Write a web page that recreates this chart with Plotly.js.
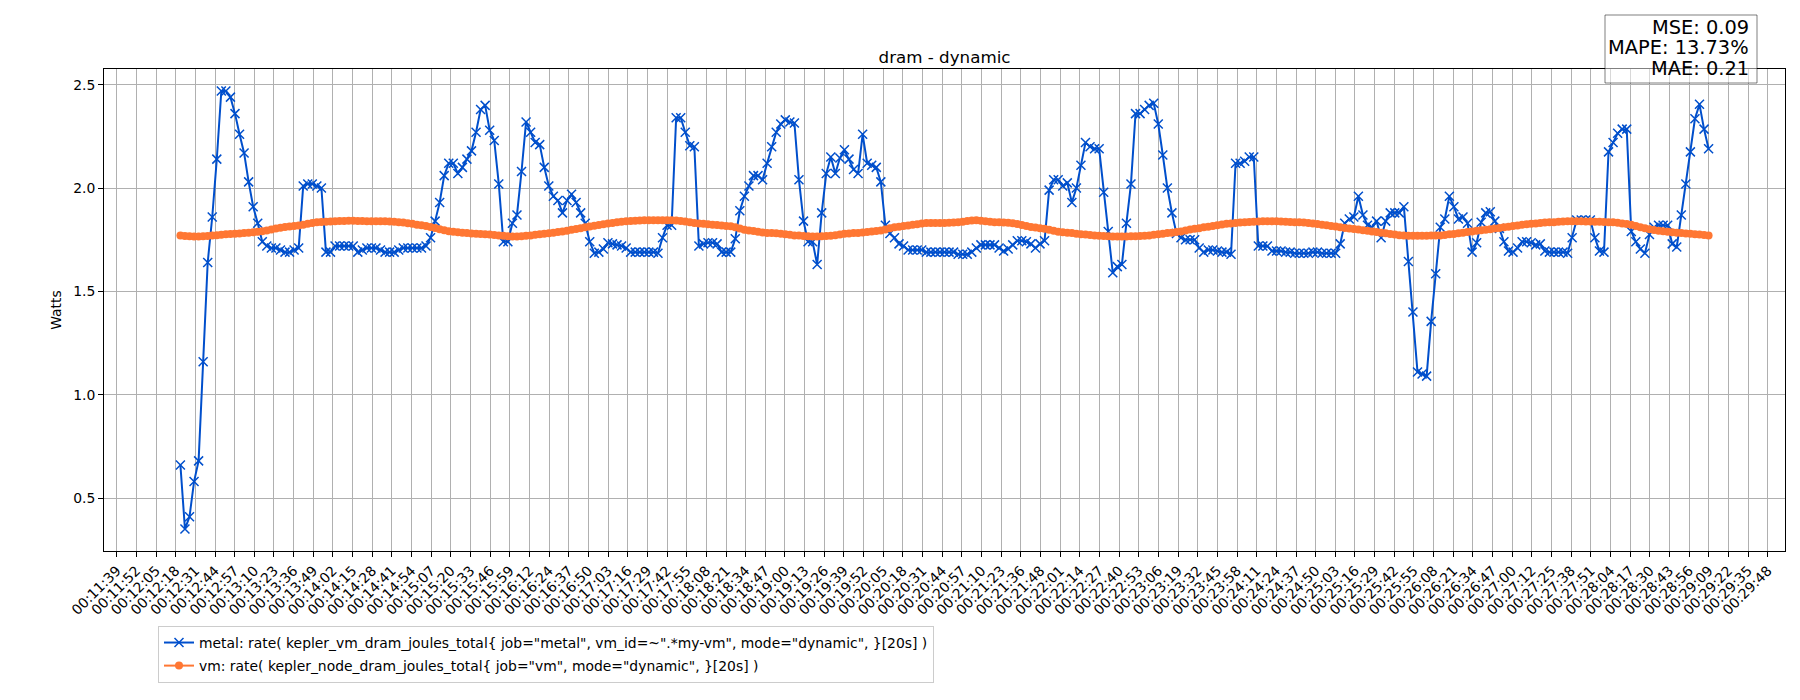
<!DOCTYPE html>
<html>
<head>
<meta charset="utf-8">
<script src="https://cdn.plot.ly/plotly-3.0.1.min.js"></script>
<style>html,body{margin:0;padding:0;background:#fff;}#chart{width:1800px;height:700px;}</style>
</head>
<body>
<div id="chart"></div>
<script>
// ---- data ----
const tickLabels = ["00:11:39","00:11:52","00:12:05","00:12:18","00:12:31","00:12:44","00:12:57","00:13:10","00:13:23","00:13:36","00:13:49","00:14:02","00:14:15","00:14:28","00:14:41","00:14:54","00:15:07","00:15:20","00:15:33","00:15:46","00:15:59","00:16:12","00:16:24","00:16:37","00:16:50","00:17:03","00:17:16","00:17:29","00:17:42","00:17:55","00:18:08","00:18:21","00:18:34","00:18:47","00:19:00","00:19:13","00:19:26","00:19:39","00:19:52","00:20:05","00:20:18","00:20:31","00:20:44","00:20:57","00:21:10","00:21:23","00:21:36","00:21:48","00:22:01","00:22:14","00:22:27","00:22:40","00:22:53","00:23:06","00:23:19","00:23:32","00:23:45","00:23:58","00:24:11","00:24:24","00:24:37","00:24:50","00:25:03","00:25:16","00:25:29","00:25:42","00:25:55","00:26:08","00:26:21","00:26:34","00:26:47","00:27:00","00:27:12","00:27:25","00:27:38","00:27:51","00:28:04","00:28:17","00:28:30","00:28:43","00:28:56","00:29:09","00:29:22","00:29:35","00:29:48"];

const sampleStart = "00:12:21";
const sampleStepSec = 3;

const metalName = 'metal: rate( kepler_vm_dram_joules_total{ job="metal", vm_id=~".*my-vm", mode="dynamic", }[20s] )';
const vmName = 'vm: rate( kepler_node_dram_joules_total{ job="vm", mode="dynamic", }[20s] )';

const metalWatts = [
0.66,0.35,0.41,0.58,0.68,1.16,1.64,1.86,2.14,2.47,
2.47,2.44,2.36,2.26,2.17,2.03,1.91,1.83,1.74,1.72,
1.71,1.71,1.70,1.69,1.69,1.70,1.71,2.01,2.02,2.02,
2.01,2.00,1.69,1.69,1.72,1.72,1.72,1.72,1.72,1.69,
1.70,1.71,1.71,1.71,1.70,1.69,1.69,1.69,1.70,1.71,
1.71,1.71,1.71,1.71,1.72,1.76,1.84,1.93,2.06,2.12,
2.12,2.07,2.10,2.14,2.18,2.27,2.38,2.40,2.28,2.23,
2.02,1.74,1.74,1.83,1.87,2.08,2.32,2.27,2.22,2.21,
2.10,2.01,1.96,1.94,1.88,1.94,1.97,1.93,1.88,1.83,
1.74,1.685,1.69,1.705,1.735,1.73,1.725,1.72,1.71,1.69,
1.69,1.69,1.69,1.69,1.69,1.685,1.76,1.82,1.82,2.34,
2.34,2.27,2.205,2.20,1.72,1.73,1.735,1.735,1.73,1.69,
1.69,1.69,1.755,1.89,1.96,2.01,2.06,2.06,2.04,2.12,
2.20,2.27,2.31,2.33,2.32,2.315,2.04,1.84,1.74,1.74,
1.63,1.88,2.07,2.15,2.07,2.145,2.185,2.14,2.09,2.07,
2.26,2.12,2.11,2.10,2.03,1.82,1.78,1.76,1.73,1.72,
1.70,1.70,1.70,1.70,1.69,1.69,1.69,1.69,1.69,1.69,
1.69,1.68,1.68,1.68,1.69,1.71,1.725,1.725,1.725,1.725,
1.71,1.695,1.705,1.725,1.745,1.745,1.74,1.73,1.71,1.73,
1.745,1.99,2.04,2.04,2.01,2.025,1.93,2.00,2.11,2.22,
2.20,2.19,2.19,1.98,1.79,1.59,1.62,1.63,1.83,2.02,
2.36,2.36,2.38,2.40,2.41,2.31,2.16,2.00,1.88,1.78,
1.76,1.75,1.75,1.75,1.71,1.69,1.70,1.70,1.695,1.69,
1.69,1.68,2.12,2.12,2.13,2.15,2.15,1.72,1.72,1.72,
1.695,1.695,1.695,1.69,1.69,1.685,1.685,1.685,1.685,1.69,
1.69,1.685,1.685,1.685,1.685,1.73,1.83,1.85,1.86,1.96,
1.87,1.82,1.81,1.84,1.76,1.84,1.88,1.88,1.88,1.91,
1.645,1.40,1.11,1.10,1.09,1.355,1.585,1.81,1.85,1.96,
1.91,1.85,1.86,1.83,1.69,1.735,1.835,1.88,1.885,1.84,
1.805,1.74,1.695,1.69,1.71,1.74,1.74,1.735,1.725,1.73,
1.695,1.69,1.69,1.69,1.69,1.685,1.76,1.845,1.845,1.845,
1.845,1.76,1.695,1.69,2.175,2.22,2.265,2.285,2.285,1.79,
1.74,1.705,1.685,1.775,1.81,1.82,1.82,1.82,1.73,1.715,
1.87,2.02,2.175,2.335,2.405,2.285,2.19];

const vmWatts = [
1.770,1.768,1.767,1.766,1.766,1.767,1.768,1.770,1.772,1.774,
1.776,1.778,1.779,1.780,1.782,1.784,1.786,1.788,1.791,1.795,
1.799,1.804,1.808,1.811,1.814,1.816,1.819,1.823,1.827,1.831,
1.834,1.836,1.837,1.838,1.839,1.840,1.841,1.842,1.842,1.841,
1.840,1.839,1.839,1.839,1.839,1.839,1.838,1.837,1.835,1.833,
1.830,1.827,1.823,1.820,1.816,1.812,1.807,1.801,1.796,1.791,
1.788,1.786,1.784,1.782,1.780,1.779,1.778,1.777,1.775,1.773,
1.771,1.769,1.767,1.766,1.766,1.767,1.769,1.771,1.774,1.777,
1.779,1.781,1.784,1.787,1.790,1.794,1.798,1.802,1.806,1.810,
1.814,1.818,1.821,1.825,1.828,1.831,1.834,1.837,1.839,1.841,
1.842,1.843,1.844,1.844,1.844,1.844,1.844,1.844,1.844,1.843,
1.841,1.838,1.835,1.831,1.829,1.827,1.825,1.823,1.821,1.819,
1.817,1.815,1.810,1.804,1.798,1.795,1.792,1.789,1.785,1.783,
1.782,1.781,1.779,1.777,1.774,1.771,1.770,1.768,1.767,1.766,
1.766,1.767,1.768,1.769,1.772,1.775,1.779,1.780,1.782,1.783,
1.785,1.787,1.790,1.792,1.795,1.800,1.805,1.810,1.813,1.816,
1.819,1.822,1.825,1.828,1.831,1.831,1.831,1.831,1.831,1.832,
1.833,1.834,1.837,1.840,1.843,1.844,1.842,1.839,1.837,1.835,
1.834,1.833,1.832,1.830,1.826,1.821,1.816,1.812,1.809,1.806,
1.803,1.798,1.793,1.789,1.786,1.784,1.782,1.779,1.777,1.775,
1.773,1.771,1.769,1.768,1.767,1.766,1.766,1.766,1.766,1.767,
1.767,1.768,1.769,1.771,1.774,1.777,1.779,1.782,1.784,1.787,
1.790,1.795,1.799,1.803,1.806,1.810,1.813,1.817,1.820,1.824,
1.827,1.829,1.831,1.833,1.835,1.836,1.837,1.838,1.839,1.839,
1.839,1.839,1.838,1.837,1.836,1.835,1.834,1.833,1.831,1.829,
1.826,1.823,1.820,1.817,1.814,1.810,1.807,1.804,1.802,1.799,
1.796,1.793,1.790,1.787,1.784,1.781,1.778,1.775,1.772,1.770,
1.769,1.769,1.769,1.769,1.769,1.770,1.771,1.771,1.773,1.776,
1.778,1.781,1.784,1.787,1.790,1.793,1.796,1.798,1.801,1.804,
1.807,1.810,1.813,1.816,1.819,1.822,1.825,1.827,1.829,1.831,
1.833,1.834,1.835,1.837,1.838,1.839,1.839,1.839,1.839,1.838,
1.838,1.837,1.837,1.836,1.835,1.834,1.832,1.829,1.826,1.822,
1.816,1.810,1.805,1.801,1.797,1.794,1.791,1.789,1.786,1.784,
1.782,1.780,1.779,1.777,1.775,1.773,1.770];

const statLines = ["MSE: 0.09", "MAPE: 13.73%", "MAE: 0.21"];

// ---- build ----
function toSec(s){ const p = s.split(':').map(Number); return p[0]*3600 + p[1]*60 + p[2]; }
const t0 = toSec(sampleStart);
const xMetal = metalWatts.map((_, i) => t0 + i*sampleStepSec);
const xVm = vmWatts.map((_, i) => t0 + i*sampleStepSec);

const firstTick = toSec(tickLabels[0]);
const lastTick = toSec(tickLabels[tickLabels.length-1]);
const tickVals = tickLabels.map((_, k) => firstTick + k*(lastTick-firstTick)/(tickLabels.length-1));

const xmin = Math.min(xMetal[0], xVm[0]), xmax = Math.max(xMetal[xMetal.length-1], xVm[xVm.length-1]);
const xpad = (xmax - xmin)*0.05;
const allY = metalWatts.concat(vmWatts);
const ymin = Math.min(...allY), ymax = Math.max(...allY);
const ypad = (ymax - ymin)*0.05;

const M = {l:104, r:15, t:69, b:149};
const W = 1800, H = 700;
const pw = W - M.l - M.r, ph = H - M.t - M.b;
const pxX = px => (px - M.l)/pw;
const pxY = py => (H - M.b - py)/ph;

const font = "DejaVu Sans, Liberation Sans, sans-serif";
const blue = '#004fcc', orange = '#ff7733';

const traces = [
  {
    x: xMetal, y: metalWatts, name: metalName, type: 'scatter', mode: 'lines+markers', legendgroup: 'a',
    line: {color: blue, width: 2},
    marker: {symbol: 'x-thin-open', size: 9, color: blue, line: {color: blue, width: 1.5}}
  },
  {
    x: xVm, y: vmWatts, name: vmName, type: 'scatter', mode: 'lines+markers', legendgroup: 'b',
    line: {color: orange, width: 2},
    marker: {symbol: 'circle', size: 8, color: orange}
  }
];

const annotations = statLines.map((txt, i) => ({
  xref: 'paper', yref: 'paper', x: pxX(1751), y: pxY(27 + i*20.5),
  xanchor: 'right', yanchor: 'middle', showarrow: false, align: 'right',
  text: txt, font: {family: font, size: 19.4, color: '#000'}
}));

const layout = {
  width: W, height: H,
  margin: M,
  paper_bgcolor: '#fff', plot_bgcolor: '#fff',
  font: {family: font, color: '#000', size: 13.9},
  title: {text: 'dram - dynamic', font: {family: font, size: 16.7, color: '#000'},
          x: 0.5, xref: 'paper', xanchor: 'center', y: 1, yref: 'paper', yanchor: 'bottom', pad: {b: 6}},
  xaxis: {
    type: 'linear', range: [xmin - xpad, xmax + xpad],
    tickmode: 'array', tickvals: tickVals, ticktext: tickLabels, tickangle: -45,
    tickfont: {family: font, size: 13.9, color: '#000'},
    showgrid: true, gridcolor: '#b0b0b0', gridwidth: 1,
    ticks: 'outside', ticklen: 5, tickwidth: 1, tickcolor: '#000',
    showline: true, mirror: true, linecolor: '#000', linewidth: 1, zeroline: false
  },
  yaxis: {
    range: [ymin - ypad, ymax + ypad],
    tickmode: 'array', tickvals: [0.5, 1.0, 1.5, 2.0, 2.5], ticktext: ['0.5','1.0','1.5','2.0','2.5'],
    tickfont: {family: font, size: 13.9, color: '#000'},
    title: {text: 'Watts', font: {family: font, size: 13.9, color: '#000'}, standoff: 8},
    showgrid: true, gridcolor: '#b0b0b0', gridwidth: 1,
    ticks: 'outside', ticklen: 5, tickwidth: 1, tickcolor: '#000',
    showline: true, mirror: true, linecolor: '#000', linewidth: 1, zeroline: false
  },
  showlegend: true,
  legend: {
    x: pxX(158), y: pxY(626), xanchor: 'left', yanchor: 'top', xref: 'paper', yref: 'paper',
    bgcolor: '#fff', bordercolor: '#cccccc', borderwidth: 1,
    font: {family: font, size: 13.9, color: '#000'}, tracegroupgap: 2
  },
  shapes: [{
    type: 'rect', xref: 'paper', yref: 'paper', layer: 'above',
    x0: pxX(1605), x1: pxX(1757), y0: pxY(83), y1: pxY(15),
    fillcolor: 'rgba(255,255,255,0.5)', line: {color: 'rgba(0,0,0,0.5)', width: 1}
  }],
  annotations: annotations,
  hovermode: false
};

Plotly.newPlot('chart', traces, layout, {staticPlot: true, displayModeBar: false});
</script>
</body>
</html>
